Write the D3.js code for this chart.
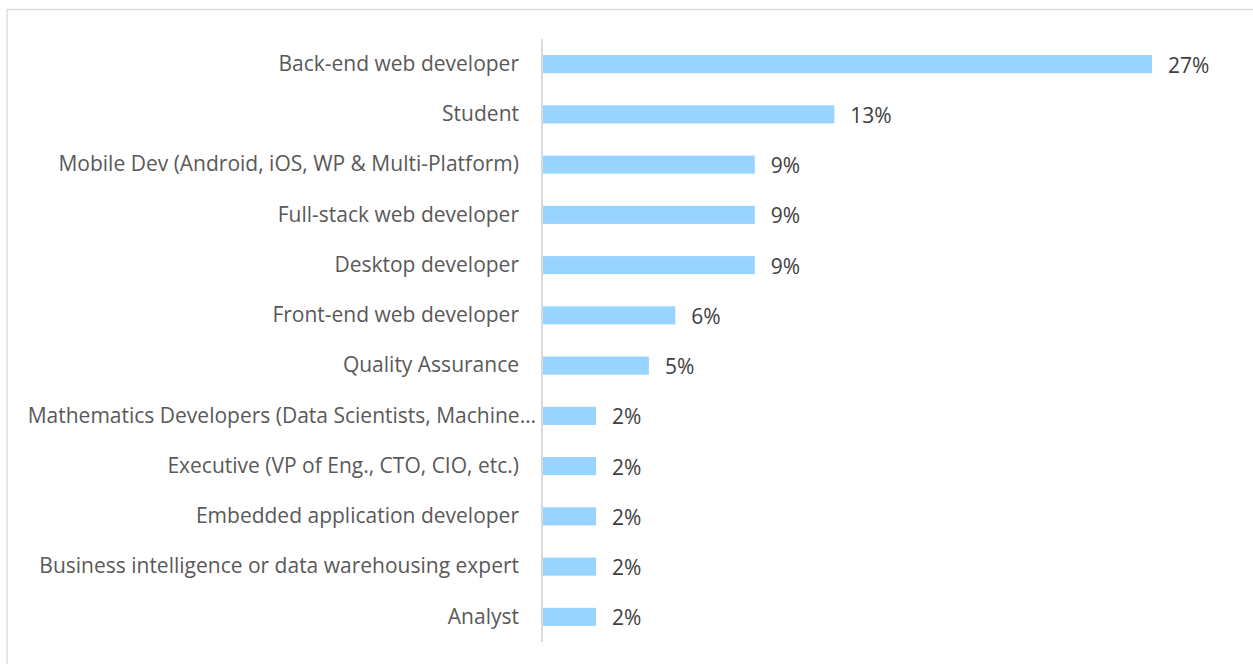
<!DOCTYPE html>
<html>
<head>
<meta charset="utf-8">
<script src="https://cdn.jsdelivr.net/npm/d3@7"></script>
<style>
  html, body { margin: 0; padding: 0; background: #fff; }
  svg { display: block; }
  text { font-family: "Open Sans", "Noto Sans", sans-serif; }
</style>
</head>
<body>
<svg id="chart" width="1253" height="664"></svg>
<script>
// Data (share of respondents, %)
const categories = [
  "Back-end web developer",
  "Student",
  "Mobile Dev (Android, iOS, WP & Multi-Platform)",
  "Full-stack web developer",
  "Desktop developer",
  "Front-end web developer",
  "Quality Assurance",
  "Mathematics Developers (Data Scientists, Machine…",
  "Executive (VP of Eng., CTO, CIO, etc.)",
  "Embedded application developer",
  "Business intelligence or data warehousing expert",
  "Analyst"
];
const values = [26.74, 12.79, 9.30, 9.30, 9.30, 5.81, 4.65, 2.33, 2.33, 2.33, 2.33, 2.33];
const valueLabels = ["27%", "13%", "9%", "9%", "9%", "6%", "5%", "2%", "2%", "2%", "2%", "2%"];

const svg = d3.select("#chart");
const fontSize = 21;

// outer chart-area border
svg.append("rect")
  .attr("x", 7).attr("y", 9.5)
  .attr("width", 1253).attr("height", 700)
  .attr("fill", "none").attr("stroke", "#d9d9d9").attr("stroke-width", 1.3);

const plotLeft = 543, plotTop = 39, plotBottom = 642;
const x = d3.scaleLinear().domain([0, 26.74]).range([plotLeft, 1152]);
const y = d3.scaleBand().domain(categories).range([plotTop, plotBottom]).paddingInner(0.64).paddingOuter(0.32);

// bars
svg.append("g").selectAll("rect")
  .data(categories)
  .join("rect")
  .attr("x", x(0))
  .attr("y", d => y(d))
  .attr("width", (d, i) => x(values[i]) - x(0))
  .attr("height", y.bandwidth())
  .attr("fill", "#99d3ff");

// value labels
svg.append("g").selectAll("text")
  .data(categories)
  .join("text")
  .attr("x", (d, i) => x(values[i]) + 16)
  .attr("y", d => y(d) + y.bandwidth() / 2 + 0.5)
  .attr("dominant-baseline", "central")
  .attr("font-size", fontSize)
  .attr("fill", "#404040")
  .text((d, i) => valueLabels[i]);

// category axis
const axis = d3.axisLeft(y).tickSize(0).tickPadding(0);
const gAxis = svg.append("g").attr("transform", `translate(${plotLeft - 1},0)`).call(axis);
gAxis.select(".domain").attr("stroke", "#d9d9d9").attr("stroke-width", 2).attr("d", `M0,${plotTop}V${plotBottom}`);
gAxis.selectAll(".tick text")
  .attr("font-size", fontSize)
  .attr("fill", "#595959")
  .attr("font-family", "'Open Sans', 'Noto Sans', sans-serif")
  .attr("x", d => d.endsWith("…") ? -6 : -23)
  .attr("dy", "0.32em");
</script>
</body>
</html>
